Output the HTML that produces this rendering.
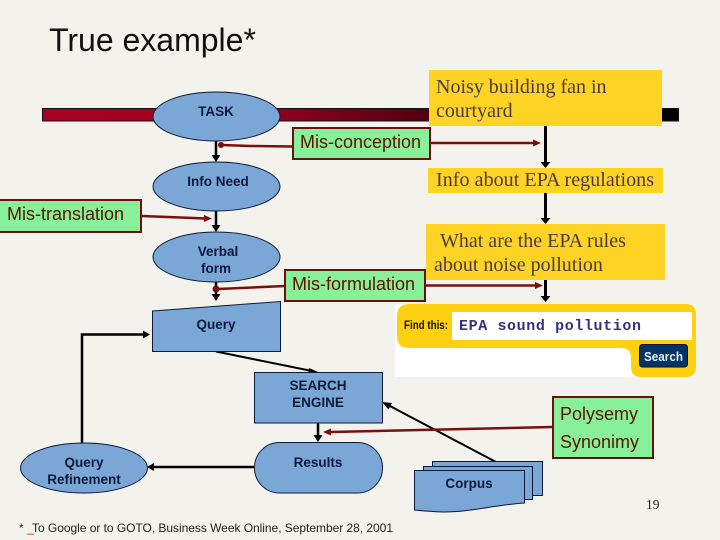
<!DOCTYPE html>
<html>
<head>
<meta charset="utf-8">
<style>
html,body{margin:0;padding:0;background:#f4f2ec;}
svg{display:block;}
.n{font-family:"Liberation Sans",sans-serif;font-weight:bold;font-size:13.5px;fill:#0c1a3a;text-anchor:middle;}
.g{font-family:"Liberation Sans",sans-serif;font-size:18px;fill:#5a1400;}
.y{font-family:"Liberation Serif",serif;font-size:20px;fill:#4a3a48;}
.s{fill:#7ba7d7;stroke:#0a1a3a;stroke-width:1;}
.gb{fill:#88f098;stroke:#6b1010;stroke-width:2;}
.k{stroke:#000;stroke-width:2.5;fill:none;}
.k3{stroke:#000;stroke-width:3;fill:none;}
.r{stroke:#7a0f0f;stroke-width:2.5;fill:none;}
</style>
</head>
<body>
<svg width="720" height="540" viewBox="0 0 720 540" xmlns="http://www.w3.org/2000/svg">
<defs>
<linearGradient id="bar" x1="0" x2="1" y1="0" y2="0">
<stop offset="0" stop-color="#a80024"/>
<stop offset="0.3" stop-color="#a00022"/>
<stop offset="0.92" stop-color="#000"/>
<stop offset="1" stop-color="#000"/>
</linearGradient>
</defs>
<rect width="720" height="540" fill="#f4f2ec"/>
<text x="49" y="51" font-family="Liberation Sans, sans-serif" font-size="32" fill="#111">True example*</text>

<rect x="42.5" y="108.5" width="636" height="12.5" fill="url(#bar)" stroke="#111" stroke-width="1"/>

<!-- black connectors -->
<path class="k" d="M216 141V158M216 211V228M216 282V297"/>
<path d="M211.500 155h9l-4.500 7zM211.500 225h9l-4.500 7zM211.500 294h9l-4.500 7z" fill="#000"/>
<path d="M216 351.500L312 371" stroke="#000" stroke-width="2" fill="none"/>
<path d="M318 372l-10 3 1-7z" fill="#000"/>
<path class="k" d="M318 423V438"/>
<path d="M313.500 435h9l-4.500 7z" fill="#000"/>
<path class="k" d="M254 467H152"/>
<path d="M147 467l7-4v8z" fill="#000"/>
<path class="k" d="M82 443V334.500H146"/>
<path d="M150 334.500l-7-4v8z" fill="#000"/>
<path d="M496 462L388 405" stroke="#000" stroke-width="2" fill="none"/>
<path d="M382 402l10 1-3.500 6.500z" fill="#000"/>
<path class="k3" d="M545.500 125V164M545.500 192V220M545.500 279V298"/>
<path d="M540.500 162h10l-5 6zM540.500 218h10l-5 6zM540.500 296h10l-5 6z" fill="#000"/>

<!-- shapes -->
<ellipse class="s" cx="216.500" cy="116.500" rx="63.500" ry="24.500"/>
<ellipse class="s" cx="216.500" cy="186.500" rx="63.500" ry="24.500"/>
<ellipse class="s" cx="216.500" cy="257" rx="63.500" ry="25"/>
<path class="s" d="M152.500 311L280.500 301.500V351.500H152.500Z"/>
<rect class="s" x="254.500" y="372.500" width="128" height="50.500"/>
<rect class="s" x="254.500" y="442.500" width="128" height="50.500" rx="25" ry="25"/>
<ellipse class="s" cx="84" cy="468" rx="63.500" ry="25"/>
<rect class="s" x="432.500" y="461.500" width="110" height="34"/>
<rect class="s" x="423.500" y="466.500" width="109" height="33"/>
<path class="s" d="M414.500 470.500H524.500V503C495 505 470 512 445 512C435 512 425 511 414.500 510Z"/>

<text class="n" x="216" y="116">TASK</text>
<text class="n" x="218" y="186">Info Need</text>
<text class="n" x="218" y="256">Verbal</text>
<text class="n" x="216" y="273">form</text>
<text class="n" x="216" y="329">Query</text>
<text class="n" x="318" y="390">SEARCH</text>
<text class="n" x="318" y="407">ENGINE</text>
<text class="n" x="318" y="467">Results</text>
<text class="n" x="84" y="467">Query</text>
<text class="n" x="84" y="484">Refinement</text>
<text class="n" x="469" y="488">Corpus</text>

<!-- yellow boxes -->
<rect x="429" y="70" width="233" height="56" fill="#ffd324"/>
<text class="y" x="436" y="93">Noisy building fan in</text>
<text class="y" x="436" y="117">courtyard</text>
<rect x="428" y="168" width="235" height="25" fill="#ffd324"/>
<text class="y" x="436" y="186" textLength="218" lengthAdjust="spacing">Info about EPA regulations</text>
<rect x="426" y="224" width="239" height="56" fill="#ffd324"/>
<text class="y" x="440" y="247">What are the EPA rules</text>
<text class="y" x="434" y="271">about noise pollution</text>

<!-- search widget -->
<rect x="395" y="304" width="301" height="73" fill="#fff"/>
<path d="M409 304H686Q696 304 696 314V367Q696 377 686 377H641Q631 377 631 367V358Q631 348 621 348H409Q397 348 397 336V316Q397 304 409 304Z" fill="#ffd011"/>
<rect x="452" y="312" width="240" height="28" fill="#fff"/>
<text x="404" y="329" font-family="Liberation Sans, sans-serif" font-size="11.500" font-weight="bold" fill="#111" textLength="44" lengthAdjust="spacingAndGlyphs">Find this:</text>
<text x="459" y="330" font-family="Liberation Mono, monospace" font-size="15" font-weight="bold" fill="#33337a" textLength="182" lengthAdjust="spacing">EPA sound pollution</text>
<rect x="639.500" y="344.500" width="48" height="22.500" rx="3" fill="#003366" stroke="#111" stroke-width="1"/>
<text x="644" y="361" font-family="Liberation Sans, sans-serif" font-size="13" font-weight="bold" fill="#e8f0f8" textLength="39" lengthAdjust="spacingAndGlyphs">Search</text>

<!-- red connectors -->
<path class="r" d="M292 146.500L250 146L222 145"/>
<circle cx="221" cy="145" r="3" fill="#7a0f0f"/>
<path class="r" d="M431 143H535"/>
<path d="M541 143l-8-3.500v7z" fill="#7a0f0f"/>
<path class="r" d="M142 216L206 218.500"/>
<path d="M212 218.500l-8-3.500v7z" fill="#7a0f0f"/>
<path class="r" d="M285 286L218 289"/>
<circle cx="216" cy="289" r="3.500" fill="#7a0f0f"/>
<path class="r" d="M425 285.500H537"/>
<path d="M543 285.500l-8-3.500v7z" fill="#7a0f0f"/>
<path class="r" d="M552 427L330 432"/>
<path d="M323 432l8-3.500v7z" fill="#7a0f0f"/>

<!-- green boxes -->
<rect class="gb" x="293" y="128" width="137" height="31"/>
<text class="g" x="300" y="148">Mis-conception</text>
<rect class="gb" x="-2" y="200" width="143" height="32"/>
<text class="g" x="7" y="220">Mis-translation</text>
<rect class="gb" x="285" y="270" width="140" height="31"/>
<text class="g" x="292" y="290">Mis-formulation</text>
<rect class="gb" x="553" y="397" width="100" height="61"/>
<text class="g" x="560" y="420">Polysemy</text>
<text class="g" x="560" y="448">Synonimy</text>

<text x="646" y="509" font-family="Liberation Serif, serif" font-size="13.500" fill="#222">19</text>
<text x="19" y="532" font-family="Liberation Sans, sans-serif" font-size="12" fill="#222">*</text>
<text x="27" y="532" font-family="Liberation Sans, sans-serif" font-size="12" fill="#b02020">_</text>
<text x="32" y="532" font-family="Liberation Sans, sans-serif" font-size="12" fill="#222" textLength="361" lengthAdjust="spacing">To Google or to GOTO, Business Week Online, September 28, 2001</text>
</svg>
</body>
</html>
